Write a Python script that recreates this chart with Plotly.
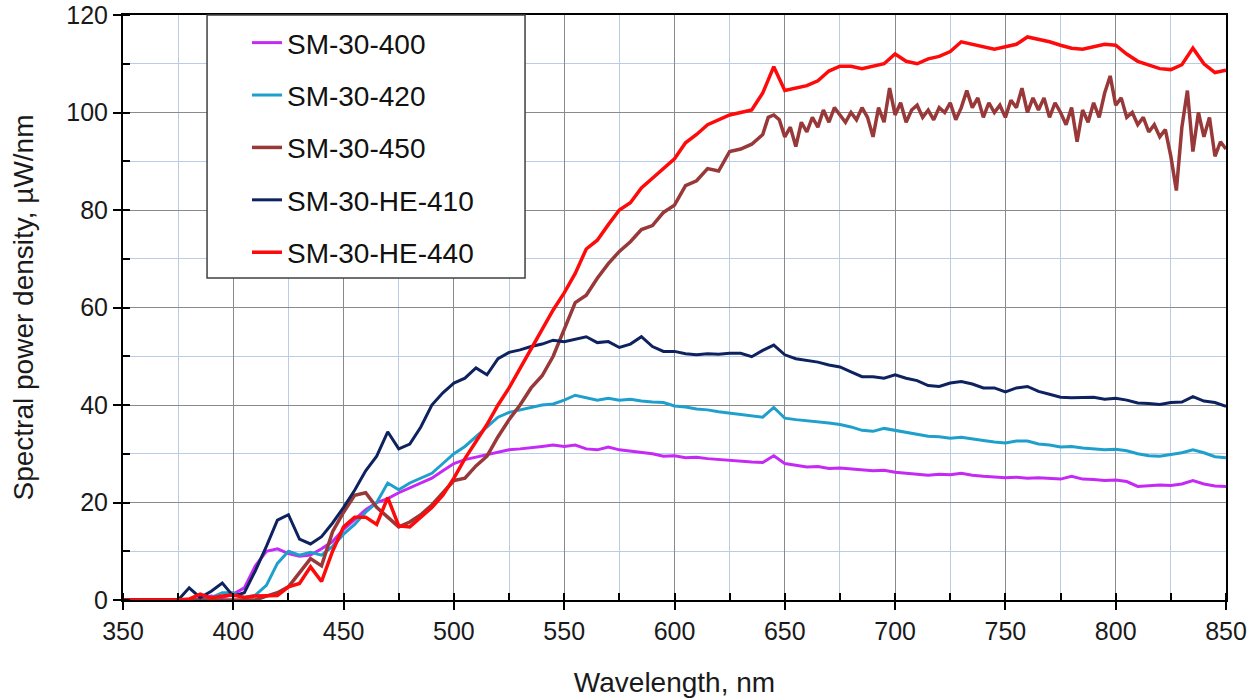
import plotly.graph_objects as go

wavelength = list(range(350, 851, 5))

sm_30_400 = [0, 0, 0, 0, 0, 0, 0, 0.3, 0.8, 0.5, 1.2, 2.5, 7, 10, 10.5, 9.5, 9, 9.2, 10.5, 12,
             14.5, 16.5, 18.5, 20, 20.8, 22, 23, 24, 25, 26.5, 28, 28.8, 29.3, 29.8, 30.3, 30.8, 31, 31.2, 31.5, 31.8,
             31.5, 31.8, 31, 30.8, 31.4, 30.8, 30.5, 30.2, 30, 29.5, 29.6, 29.2, 29.3, 29, 28.8, 28.7, 28.5, 28.3, 28.2, 29.6,
             28, 27.6, 27.3, 27.4, 27, 27.1, 26.9, 26.7, 26.5, 26.6, 26.2, 26, 25.8, 25.6, 25.8, 25.7, 26, 25.6, 25.4, 25.3,
             25.1, 25.2, 25, 25.1, 24.9, 24.8, 25.4, 24.8, 24.7, 24.5, 24.6, 24.3, 23.3, 23.5, 23.6, 23.5, 23.8, 24.5, 23.8, 23.4,
             23.3]

sm_30_420 = [0, 0, 0, 0, 0, 0, 0, 0, 0.5, 1.5, 1.5, 0.5, 1, 3, 7.5, 10, 9.2, 9.8, 9.2, 11,
             13.5, 15.5, 18, 20, 24, 22.6, 24, 25, 26, 28, 30, 31.5, 33.5, 35.5, 37.5, 38.5, 39, 39.5, 40, 40.2,
             41, 42, 41.5, 41, 41.4, 41, 41.2, 40.8, 40.6, 40.5, 39.8, 39.6, 39.2, 39, 38.6, 38.3, 38, 37.8, 37.5, 39.5,
             37.3, 37, 36.8, 36.5, 36.3, 36, 35.5, 34.8, 34.6, 35.2, 34.8, 34.5, 34, 33.6, 33.5, 33.2, 33.4, 33, 32.7, 32.4,
             32.2, 32.6, 32.6, 32, 31.8, 31.4, 31.5, 31.2, 31, 30.8, 30.9, 30.6, 30, 29.6, 29.5, 29.8, 30.2, 30.8, 30.2, 29.4,
             29.2]

sm_30_he_410 = [0, 0, 0, 0, 0, 0, 2.5, 0.5, 1.8, 3.5, 0.8, 1.5, 6, 11, 16.4, 17.5, 12.5, 11.5, 13, 15.8,
                19, 22.5, 26.5, 29.5, 34.5, 31, 32, 35.5, 40, 42.5, 44.5, 45.5, 47.6, 46.2, 49.5, 50.8, 51.3, 52, 52.5, 53.3,
                53, 53.5, 54, 52.8, 53, 51.8, 52.5, 54, 52, 51, 51, 50.5, 50.3, 50.5, 50.4, 50.6, 50.6, 49.9, 51.2, 52.3,
                50.3, 49.5, 49.2, 48.8, 48.2, 47.8, 46.8, 45.8, 45.8, 45.5, 46.2, 45.5, 45, 44, 43.8, 44.5, 44.8, 44.3, 43.5, 43.5,
                42.7, 43.5, 43.8, 42.8, 42.2, 41.6, 41.5, 41.6, 41.6, 41.2, 41.4, 41, 40.4, 40.3, 40.1, 40.5, 40.6, 41.7, 40.8, 40.5,
                39.7]

sm_30_he_440 = [0, 0, 0, 0, 0, 0, 0.2, 1.2, 0.4, 0.8, 1, 0.5, 0.8, 0.8, 0.9, 2.7, 3.4, 6.8, 3.8, 10,
                15, 17, 17, 15.5, 21, 15.2, 15, 17, 19, 21.5, 25, 29, 32.5, 36, 40, 43.5, 47.5, 51.5, 55.5, 59.5,
                63, 67, 72, 73.8, 77, 80, 81.5, 84.5, 86.5, 88.5, 90.5, 93.8, 95.5, 97.5, 98.5, 99.5, 100, 100.5, 104, 109.4,
                104.5, 105, 105.5, 106.5, 108.5, 109.5, 109.5, 109, 109.5, 110, 112, 110.5, 110, 111, 111.5, 112.5, 114.5, 114, 113.5, 113,
                113.5, 114, 115.5, 115, 114.5, 113.8, 113.2, 113, 113.5, 114, 113.8, 112, 110.5, 109.7, 109, 108.8, 109.8, 113.2, 110, 108.2,
                108.7]

wavelength_450 = list(range(350, 641, 5)) + [640 + 2.5 * i for i in range(1, 85)]

sm_30_450 = [0, 0, 0, 0, 0, 0, 0, 0, 0, 0, 0, 0, 0, 0.8, 1.5, 2.7, 5.5, 8.5, 7, 14,
             18, 21.5, 22, 19, 17, 15, 16, 17.5, 19.5, 22, 24.5, 25, 27.5, 29.5, 33.5, 37, 40, 43.5, 46, 50,
             55.4, 61, 62.5, 66, 69, 71.5, 73.5, 76, 76.8, 79.5, 81, 85, 86, 88.5, 88, 92, 92.5, 93.5, 95.5,
             99, 99.5, 98.5, 95, 97, 93, 98, 96, 99, 97, 100.5, 98, 101, 99.5, 98, 100, 98.5, 101, 99, 95,
             101, 98, 105, 99.5, 102, 98, 100.5, 101.5, 99, 100.5, 98.5, 101, 100, 102, 98.5, 101, 104.5, 101, 103, 99,
             102, 100, 101.5, 99, 102.5, 101, 105, 100, 103, 100.5, 103, 99, 102, 100, 97.5, 101, 94, 100.5, 98, 102,
             99, 104, 107.5, 101.5, 103, 99, 100, 97.5, 99, 96, 97.5, 95, 96.5, 91, 84, 97, 104.5, 92, 100, 95,
             99, 91, 94, 92.5]

series = [
    ("SM-30-400", wavelength, sm_30_400, "#C52AF5", 3),
    ("SM-30-420", wavelength, sm_30_420, "#1FA0CC", 3),
    ("SM-30-450", wavelength_450, sm_30_450, "#983838", 3.5),
    ("SM-30-HE-410", wavelength, sm_30_he_410, "#0E2260", 3),
    ("SM-30-HE-440", wavelength, sm_30_he_440, "#FF0A0A", 3.5),
]

fig = go.Figure()
for i, (name, xs, ys, color, w) in enumerate(series):
    fig.add_trace(go.Scatter(x=xs, y=ys, mode="lines", name=name, legendgroup=f"g{i}",
                             line=dict(color=color, width=w)))

font_family = "Liberation Sans, Arial, sans-serif"

# legend frame (white box, drawn above the data like the reference)
fig.add_shape(type="rect", xref="paper", yref="paper",
              x0=0.0762, x1=0.3645, y0=0.5504, y1=1.0,
              fillcolor="white", line=dict(color="#404040", width=1.5), layer="above")

fig.update_layout(
    width=1260, height=700,
    margin=dict(l=123, r=34, t=15, b=100),
    paper_bgcolor="white", plot_bgcolor="white",
    font=dict(family=font_family, size=25, color="#1a1a1a"),
    showlegend=True,
    legend=dict(x=0.1124, y=0.995, xanchor="left", yanchor="top",
                bgcolor="rgba(0,0,0,0)", borderwidth=0,
                font=dict(size=28, family=font_family, color="#111111"),
                tracegroupgap=13, itemwidth=30),
)
fig.update_xaxes(
    range=[350, 850], dtick=50, tick0=350, automargin=False,
    showline=True, linecolor="black", linewidth=2, mirror=True,
    ticks="outside", ticklen=8, tickwidth=2, tickcolor="black",
    showgrid=True, gridcolor="#8a8a8a", gridwidth=1,
    minor=dict(dtick=25, showgrid=True, gridcolor="#b9cde6", gridwidth=1,
               ticks="inside", ticklen=7, tickwidth=2, tickcolor="black"),
    tickfont=dict(size=25), zeroline=False,
    title=dict(text="Wavelength, nm", font=dict(size=28), standoff=28),
)
fig.update_yaxes(
    range=[0, 120], dtick=20, automargin=False,
    showline=True, linecolor="black", linewidth=2, mirror=True,
    ticks="outside", ticklen=8, tickwidth=2, tickcolor="black",
    showgrid=True, gridcolor="#8a8a8a", gridwidth=1,
    minor=dict(dtick=10, showgrid=True, gridcolor="#b9cde6", gridwidth=1,
               ticks="inside", ticklen=7, tickwidth=2, tickcolor="black"),
    tickfont=dict(size=25), zeroline=False,
    title=dict(text="Spectral power density, µW/nm", font=dict(size=28), standoff=24),
)

fig.write_html("out.html", config={"displayModeBar": False},
               post_script="document.body.style.margin='0px';")
